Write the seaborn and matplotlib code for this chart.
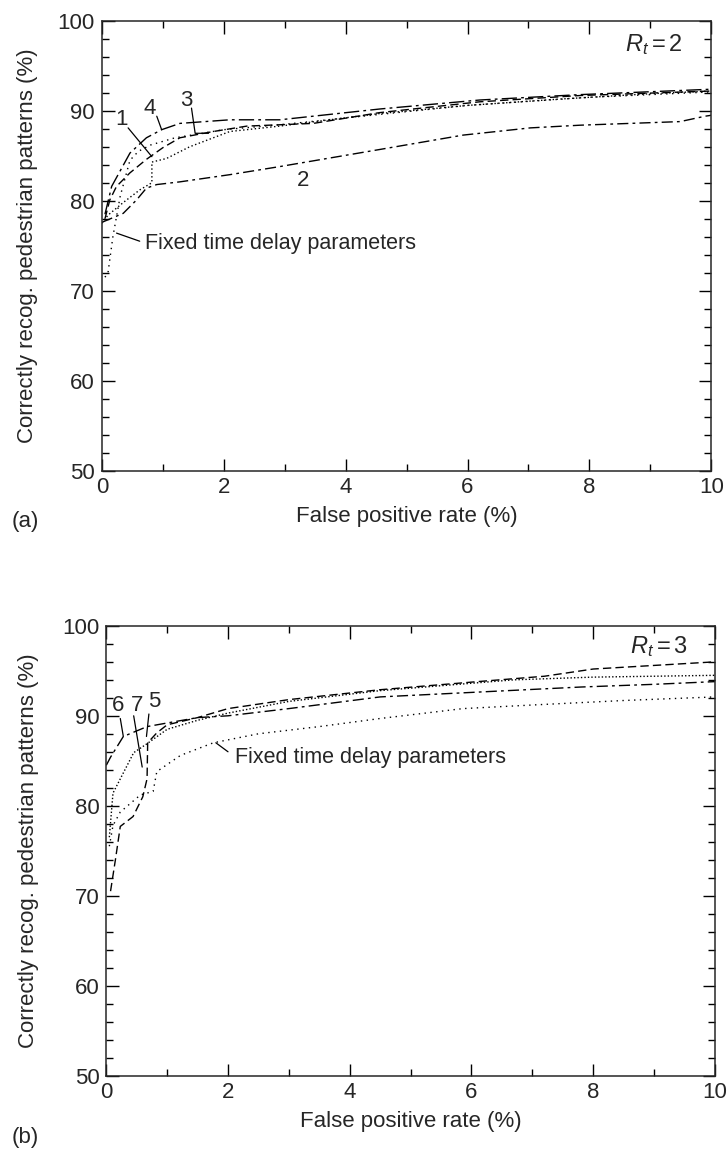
#!/usr/bin/env python3

# ROC-style curves: recognition rate vs false positive rate, two panels (R_t = 2, R_t = 3)
import pandas as pd
import matplotlib
matplotlib.use("Agg")
import matplotlib.pyplot as plt
from matplotlib.ticker import MultipleLocator
import seaborn as sns

# ---- data ----
# panel (a), R_t = 2
a1_x = [0.0, 0.1, 0.35, 0.62, 0.82, 0.82, 1.06, 1.44, 2.1, 2.92, 4.56, 6.0, 7.5, 9.0, 10.0]
a1_y = [77.5, 78.4, 79.8, 81.2, 82.0, 84.3, 84.7, 86.0, 87.7, 88.3, 89.7, 90.6, 91.3, 91.9, 92.2]
a2_x = [0.0, 0.35, 0.57, 0.73, 0.9, 1.28, 2.1, 2.92, 4.56, 5.93, 7.03, 7.85, 9.49, 9.9, 10.0]
a2_y = [77.6, 78.6, 80.1, 81.4, 81.8, 82.1, 82.9, 83.8, 85.7, 87.3, 88.1, 88.4, 88.8, 89.4, 89.5]
a3_x = [0.05, 0.13, 0.24, 0.46, 0.73, 1.0, 1.28, 1.83, 2.38, 3.47, 4.56, 6.2, 7.85, 10.0]
a3_y = [78.0, 80.1, 81.6, 83.1, 84.6, 85.9, 87.0, 87.7, 88.3, 88.6, 89.8, 91.0, 91.7, 92.2]
a4_x = [0.05, 0.16, 0.46, 0.73, 0.98, 1.28, 2.1, 2.92, 4.56, 6.2, 7.85, 10.0]
a4_y = [78.5, 81.6, 85.3, 87.0, 87.9, 88.6, 89.0, 89.0, 90.2, 91.2, 91.8, 92.4]
afix_x = [0.05, 0.1, 0.18, 0.3, 0.46, 0.6, 0.8, 1.2, 2.0, 3.0, 4.56, 6.0, 8.0, 10.0]
afix_y = [71.5, 72.0, 76.0, 80.5, 84.5, 85.5, 86.2, 87.0, 87.9, 88.5, 89.6, 90.6, 91.5, 92.1]

# panel (b), R_t = 3
b5_x = [0.07, 0.15, 0.23, 0.44, 0.6, 0.67, 0.68, 0.83, 1.0, 1.5, 2.0, 3.0, 4.5, 6.1, 7.2, 8.0, 9.0, 10.0]
b5_y = [70.5, 74.0, 77.7, 78.8, 81.0, 83.0, 87.0, 88.1, 89.0, 89.8, 90.8, 91.8, 92.9, 93.8, 94.4, 95.2, 95.6, 96.0]
b6_x = [0.0, 0.07, 0.28, 0.67, 1.0, 1.5, 2.0, 3.0, 4.5, 6.0, 7.8, 9.0, 10.0]
b6_y = [84.5, 85.4, 87.7, 88.8, 89.2, 89.8, 90.0, 90.8, 92.1, 92.6, 93.2, 93.5, 93.8]
b7_x = [0.05, 0.11, 0.45, 0.67, 1.0, 1.5, 2.0, 3.0, 4.5, 6.7, 8.0, 10.0]
b7_y = [76.5, 81.4, 85.9, 86.9, 88.5, 89.5, 90.3, 91.6, 92.8, 94.0, 94.3, 94.5]
bfix_x = [0.05, 0.11, 0.23, 0.56, 0.77, 0.83, 1.22, 1.76, 2.5, 3.5, 4.5, 5.86, 7.0, 8.5, 10.0]
bfix_y = [75.5, 77.8, 79.3, 81.2, 81.6, 83.8, 85.6, 87.0, 88.0, 88.8, 89.7, 90.8, 91.2, 91.7, 92.1]

x_ticks = [0, 2, 4, 6, 8, 10]
y_ticks = [50, 60, 70, 80, 90, 100]
xlabel = "False positive rate (%)"
ylabel = "Correctly recog. pedestrian patterns (%)"
fixed_label = "Fixed time delay parameters"

# line styles (dash patterns)
dash_styles = {
    "1": (1, 1.8),
    "2": (8, 3, 2, 3),
    "3": (6, 3),
    "4": (11, 3, 2, 3),
    "fixed": (1, 3.2),
    "5": (6, 3),
    "6": (8, 3, 2, 3),
    "7": (1, 1.5),
}


def long_df(curves):
    frames = []
    for name, xs, ys in curves:
        frames.append(pd.DataFrame({"fpr": xs, "rate": ys, "curve": name}))
    return pd.concat(frames, ignore_index=True)


df_a = long_df([("1", a1_x, a1_y), ("2", a2_x, a2_y), ("3", a3_x, a3_y),
                ("4", a4_x, a4_y), ("fixed", afix_x, afix_y)])
df_b = long_df([("5", b5_x, b5_y), ("6", b6_x, b6_y), ("7", b7_x, b7_y),
                ("fixed", bfix_x, bfix_y)])

sns.set_style("ticks")
plt.rcParams["font.family"] = ["Liberation Sans", "DejaVu Sans"]
plt.rcParams["mathtext.fontset"] = "custom"
plt.rcParams["mathtext.rm"] = "Liberation Sans"
plt.rcParams["mathtext.it"] = "Liberation Sans:italic"
plt.rcParams["axes.linewidth"] = 1.1

fig = plt.figure(figsize=(7.28, 11.59), dpi=100)
ax_a = fig.add_axes([0.140, 0.594, 0.837, 0.388])
ax_b = fig.add_axes([0.146, 0.072, 0.836, 0.388])

for ax, df in [(ax_a, df_a), (ax_b, df_b)]:
    sns.lineplot(data=df, x="fpr", y="rate", style="curve",
                 dashes={k: dash_styles[k] for k in df["curve"].unique()},
                 color="black", linewidth=1.0, estimator=None, sort=False,
                 legend=False, ax=ax)
    ax.set_xlim(0, 10)
    ax.set_ylim(50, 100)
    ax.set_xticks(x_ticks)
    ax.set_yticks(y_ticks)
    ax.xaxis.set_minor_locator(MultipleLocator(1))
    ax.yaxis.set_minor_locator(MultipleLocator(2))
    ax.tick_params(which="both", direction="in", top=True, right=True,
                   labelsize=16, color="black")
    ax.tick_params(which="major", length=9, width=1.0)
    ax.tick_params(which="minor", length=5, width=1.0)
    ax.tick_params(axis="x", pad=5)
    ax.tick_params(axis="y", pad=5)
    ax.set_xlabel(xlabel, fontsize=16)
    ax.set_ylabel(ylabel, fontsize=16)
    ax.xaxis.set_label_coords(0.5, -0.078)
    for s in ax.spines.values():
        s.set_visible(True)

ax_a.yaxis.set_label_coords(-0.105, 0.5)
ax_b.yaxis.set_label_coords(-0.11, 0.5)

# ---- annotations panel (a) ----
lk = dict(color="black", lw=0.9)
ax_a.text(0.954, 0.947, r"$R_t = 2$", transform=ax_a.transAxes, ha="right",
          va="center", fontsize=17)
ax_a.text(0.32, 89.0, "1", fontsize=16, ha="center", va="center")
ax_a.plot([0.43, 0.82], [88.1, 84.9], **lk)
ax_a.text(0.79, 90.3, "4", fontsize=16, ha="center", va="center")
ax_a.plot([0.9, 0.98], [89.4, 87.9], **lk)
ax_a.text(1.39, 91.2, "3", fontsize=16, ha="center", va="center")
ax_a.plot([1.47, 1.53, 1.75], [90.3, 87.5, 87.5], **lk)
ax_a.text(3.3, 82.3, "2", fontsize=16, ha="center", va="center")
ax_a.plot([0.24, 0.62], [76.4, 75.5], **lk)
ax_a.text(0.7, 75.3, fixed_label, fontsize=15.5, ha="left", va="center")

# ---- annotations panel (b) ----
ax_b.text(0.956, 0.954, r"$R_t = 3$", transform=ax_b.transAxes, ha="right",
          va="center", fontsize=17)
ax_b.text(0.2, 91.2, "6", fontsize=16, ha="center", va="center")
ax_b.plot([0.23, 0.28], [89.7, 87.7], **lk)
ax_b.text(0.5, 91.2, "7", fontsize=16, ha="center", va="center")
ax_b.plot([0.45, 0.59], [90.0, 84.3], **lk)
ax_b.text(0.78, 91.6, "5", fontsize=16, ha="center", va="center")
ax_b.plot([0.70, 0.66], [90.2, 87.7], **lk)
ax_b.plot([1.8, 2.0], [87.0, 86.0], **lk)
ax_b.text(2.12, 85.4, fixed_label, fontsize=15.5, ha="left", va="center")

# panel letters
fig.text(12 / 728, 1 - 522 / 1159, "(a)", fontsize=16, ha="left", va="center")
fig.text(12 / 728, 1 - 1137 / 1159, "(b)", fontsize=16, ha="left", va="center")

plt.savefig("out.png", dpi=100, facecolor="white")
